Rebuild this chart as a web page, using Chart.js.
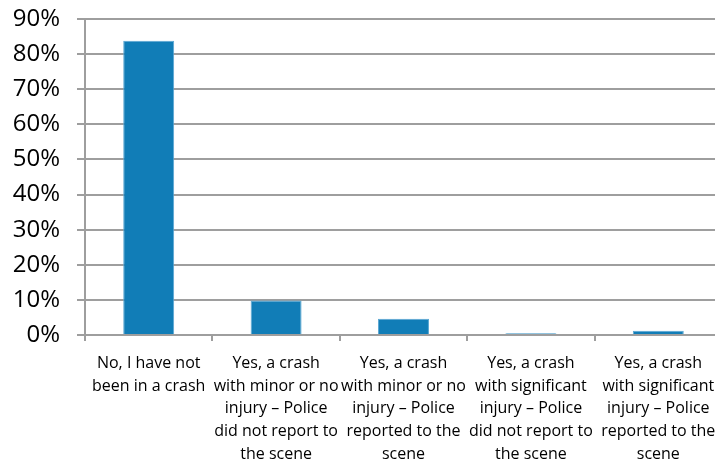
<!DOCTYPE html>
<html>
<head>
<meta charset="utf-8">
<script src="https://cdn.jsdelivr.net/npm/chart.js@4"></script>
<style>
  html, body { margin: 0; padding: 0; background: #fff; overflow: hidden; }
  /* the plot runs a few pixels past the right edge of the frame */
  #wrap { width: 715px; height: 459px; overflow: hidden; }
</style>
</head>
<body>
<div id="wrap"><canvas id="c" width="722" height="459"></canvas></div>
<script>
// Survey answers: "Have you been in a crash?"
const categories = [
  ["No, I have not", "been in a crash"],
  ["Yes, a crash", "with minor or no", "injury \u2013 Police", "did not report to", "the scene"],
  ["Yes, a crash", "with minor or no", "injury \u2013 Police", "reported to the", "scene"],
  ["Yes, a crash", "with significant", "injury \u2013 Police", "did not report to", "the scene"],
  ["Yes, a crash", "with significant", "injury \u2013 Police", "reported to the", "scene"]
];
// Share of respondents, percent
const shares = [83.8, 9.8, 4.6, 0.5, 1.2];
const yTicks = [0, 10, 20, 30, 40, 50, 60, 70, 80, 90];

const gridGrey = '#9e9e9e';
const fontFamily = '"Open Sans", "DejaVu Sans", sans-serif';

new Chart(document.getElementById('c'), {
  type: 'bar',
  data: {
    labels: categories,
    datasets: [{
      data: shares,
      backgroundColor: '#117db7',
      borderColor: '#5aa7d3',
      borderWidth: { left: 1, right: 1, top: 1, bottom: 0 },
      categoryPercentage: 1.0,
      barPercentage: 0.4
    }]
  },
  options: {
    responsive: false,
    animation: false,
    devicePixelRatio: 1,
    layout: { padding: { top: 19, right: 0, left: 0, bottom: 0 } },
    plugins: { legend: { display: false }, tooltip: { enabled: false } },
    scales: {
      x: {
        offset: true,
        grid: {
          display: true,
          drawOnChartArea: false,
          drawTicks: true,
          tickLength: 6,
          offset: true,
          color: gridGrey,
          lineWidth: 2
        },
        border: { display: true, color: gridGrey, width: 2 },
        ticks: {
          autoSkip: false,
          maxRotation: 0,
          minRotation: 0,
          padding: 11,
          color: '#000',
          font: { family: fontFamily, size: 16, lineHeight: 1.42 }
        },
        afterFit(scale) { scale.height = 124; scale.paddingRight = 0; scale.paddingLeft = 0; }
      },
      y: {
        min: 0,
        max: 90,
        afterBuildTicks(scale) { scale.ticks = yTicks.map(v => ({ value: v })); },
        grid: {
          color: gridGrey,
          lineWidth: 2,
          tickLength: 8,
          drawTicks: true
        },
        border: { display: true, color: gridGrey, width: 2 },
        ticks: {
          padding: 17,
          color: '#000',
          font: { family: fontFamily, size: 24 },
          callback: v => v + '%'
        },
        afterFit(scale) { scale.width = 85; scale.paddingTop = 0; scale.paddingBottom = 0; }
      }
    }
  }
});
</script>
</body>
</html>
